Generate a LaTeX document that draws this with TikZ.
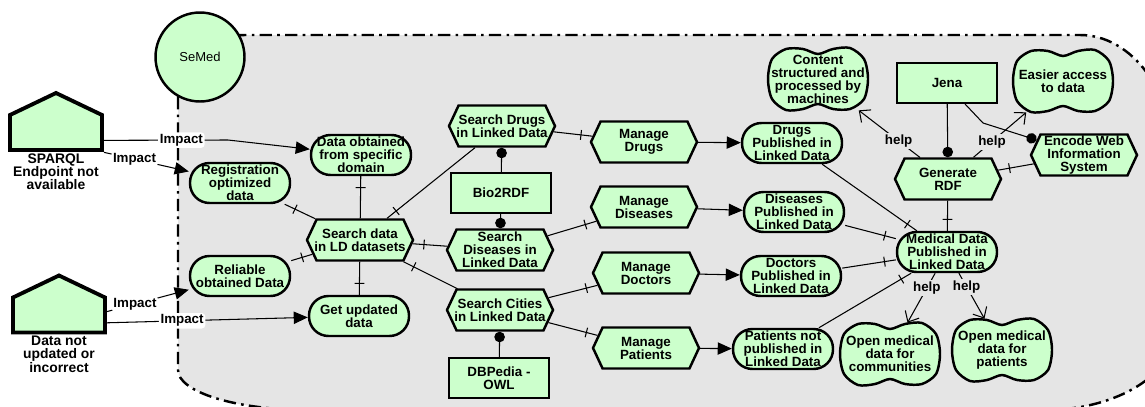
\documentclass[tikz,border=0pt]{standalone}
\usepackage{fontspec}
\setmainfont{Liberation Sans}
\usepackage{xcolor}
\definecolor{istarGreen}{RGB}{204,255,204}
\definecolor{boundaryGray}{RGB}{229,229,229}
\usepackage{tikz}
\usetikzlibrary{arrows.meta,shapes.misc,shapes.symbols,decorations.markings,calc}

\newcommand{\cloudoutline}[1]{%
  \draw[cloudline, shift={(#1)}] plot[smooth cycle] coordinates
    {(-50,0) (-46,-20) (-32,-30) (-15,-30) (0,-25) (15,-30) (32,-31) (46,-20)
     (50,0) (46,20) (32,30) (15,30) (0,25) (-15,30) (-32,31) (-46,20)};}
\newcommand{\actoroutline}[1]{%
  \draw[actorline, shift={(#1)}] (-46,28.5) -- (-46,-6.5) -- (0,-28.5) -- (46,-6.5) -- (46,28.5) -- cycle;}

\begin{document}
\begin{tikzpicture}[x=0.02cm, y=-0.02cm,
  every node/.style={font=\bfseries\fontsize{7.6}{7.4}\selectfont, align=center},
  goal/.style={rectangle, rounded corners=0.39cm, draw, line width=1.4pt, fill=istarGreen, minimum width=2cm, minimum height=0.8cm, inner sep=0pt},
  task/.style={signal, signal to=east and west, signal pointer angle=130, draw, line width=1.4pt, fill=istarGreen, minimum width=2.12cm, minimum height=0.82cm, inner xsep=-6pt, inner ysep=0pt},
  resource/.style={rectangle, draw, line width=1.4pt, fill=istarGreen, minimum width=2cm, minimum height=0.79cm, inner sep=0pt},
  softtext/.style={rectangle, minimum width=2cm, minimum height=1.24cm, inner sep=0pt},
  cloudline/.style={draw, line width=1.4pt, fill=istarGreen},
  actorline/.style={draw, line width=2.2pt, fill=istarGreen, line join=miter},
  actorbox/.style={rectangle, minimum width=1.84cm, minimum height=1.14cm, inner sep=0pt},
  actorlbl/.style={inner sep=0pt, label distance=1.5pt, font=\bfseries\fontsize{7.9}{7.6}\selectfont},
  boundary/.style={fill=boundaryGray, draw, line width=1.4pt, dash pattern=on 7pt off 3pt on 1.5pt off 3pt},
  link/.style={line width=0.6pt},
  decomp/.style={link, postaction={decorate}, decoration={markings, mark=at position -6.5pt with {\draw[link] (0,-2.8pt) -- (0,2.8pt);}}},
  meansend/.style={link, -{Triangle[length=8pt,width=7pt]}},
  impact/.style={link, -{Triangle[length=8pt,width=7pt]}},
  help/.style={link, -{Straight Barb[length=5pt,width=9pt]}},
  usedby/.style={link, -{Circle[length=6pt]}},
  lbl/.style={fill=white, inner sep=1pt, rounded corners=2pt},
  helplbl/.style={fill=boundaryGray, inner sep=1pt}]
\useasboundingbox (0,0) rectangle (1145,406);
\draw[boundary] (178,97) -- (178,370) arc[start angle=180, end angle=90, x radius=130, y radius=40] -- (1045,410) arc[start angle=90, end angle=0, x radius=130, y radius=80] -- (1175,165) arc[start angle=0, end angle=-90, x radius=95, y radius=130] -- (245,35) arc[start angle=-90, end angle=-180, x radius=67, y radius=62] -- cycle;
\node[circle, draw, line width=1.4pt, fill=istarGreen, minimum size=1.78cm, font=\fontsize{7.4}{8}\selectfont] (semed) at (200,57) {SeMed};

\actoroutline{56,121.5}
\node[actorbox, label={[actorlbl]below:SPARQL\\Endpoint not\\available}] (sparql) at (56,121.5) {};
\actoroutline{59,304}
\node[actorbox, label={[actorlbl]below:Data not\\updated or\\incorrect}] (datanot) at (59,304) {};

\node[goal] (dataobt) at (361,155) {Data obtained\\from specific\\domain};
\node[goal] (reg) at (240,183) {Registration\\optimized\\data};
\node[goal] (reliable) at (240,276) {Reliable\\obtained Data};
\node[goal] (getupd) at (359,316) {Get updated\\data};
\node[goal] (drugspub) at (792,143) {Drugs\\Published in\\Linked Data};
\node[goal] (dispub) at (794,212) {Diseases\\Published in\\Linked Data};
\node[goal] (docpub) at (791,276) {Doctors\\Published in\\Linked Data};
\node[goal] (patpub) at (783,349) {Patients not\\published in\\Linked Data};
\node[goal] (meddata) at (947,252) {Medical Data\\Published in\\Linked Data};

\node[task] (sdata) at (360,240) {Search data\\in LD datasets};
\node[task] (sdrugs) at (502,126) {Search Drugs\\in Linked Data};
\node[task] (sdis) at (500,250) {Search\\Diseases in\\Linked Data};
\node[task] (scities) at (500,310) {Search Cities\\in Linked Data};
\node[task] (mdrugs) at (644,142) {Manage\\Drugs};
\node[task] (mdis) at (644,207) {Manage\\Diseases};
\node[task] (mdoc) at (646,273) {Manage\\Doctors};
\node[task] (mpat) at (646,348) {Manage\\Patients};
\node[task] (genrdf) at (948,179) {Generate\\RDF};
\node[task] (encode) at (1084,155) {Encode Web\\Information\\System};

\node[resource] (bio) at (501,193) {Bio2RDF};
\node[resource] (dbpedia) at (499,378) {DBPedia -\\OWL};
\node[resource] (jena) at (947,83) {Jena};

\cloudoutline{818,79}
\node[softtext] (content) at (818,79) {Content\\structured and\\processed by\\machines};
\cloudoutline{1063,81}
\node[softtext] (easier) at (1063,81) {Easier access\\to data};
\cloudoutline{890,354}
\node[softtext] (opencom) at (890,354) {Open medical\\data for\\communities};
\cloudoutline{1002,350}
\node[softtext] (openpat) at (1002,350) {Open medical\\data for\\patients};

\draw[impact] ($(sparql.south)+(46,-10)$) -- node[lbl, pos=0.63] {Impact} (228,140) -- (dataobt);
\draw[impact] ($(sparql.south)+(48,2)$) -- node[lbl, pos=0.36] {Impact} (reg);
\draw[impact] ($(datanot.south)+(47,-21)$) -- node[lbl, pos=0.35] {Impact} (reliable);
\draw[impact] ($(datanot.south)+(46,-10)$) -- node[lbl, pos=0.38] {Impact} (getupd);

\draw[decomp] (sdata) -- (dataobt);
\draw[decomp] (sdata) -- (reg);
\draw[decomp] (sdata) -- (reliable);
\draw[decomp] (sdata) -- (getupd);
\draw[decomp] (sdrugs) -- (sdata);
\draw[decomp] (sdis) -- (sdata);
\draw[decomp] (scities) -- (sdata);
\draw[decomp] (sdrugs) -- (mdrugs);
\draw[decomp] (sdis) -- (mdis);
\draw[decomp] (scities) -- (mdoc);
\draw[decomp] (scities) -- (mpat);
\draw[decomp] (drugspub) -- (meddata);
\draw[decomp] (dispub) -- (meddata);
\draw[decomp] (docpub) -- (meddata);
\draw[decomp] (patpub) -- (meddata);
\draw[decomp] (genrdf) -- (meddata);
\draw[decomp] (encode) -- (genrdf);

\draw[meansend] (mdrugs) -- (drugspub);
\draw[meansend] (mdis) -- (dispub);
\draw[meansend] (mdoc) -- (docpub);
\draw[meansend] (mpat) -- (patpub);

\draw[usedby] (bio) -- (sdrugs);
\draw[usedby] (bio) -- (sdis);
\draw[usedby] (dbpedia) -- (scities);
\draw[usedby] (jena) -- (genrdf);
\draw[usedby] ($(jena.south)+(18,0)$) -- (983,123) -- (encode);

\draw[help] (genrdf) -- node[helplbl, pos=0.35] {help} (content);
\draw[help] (genrdf) -- node[helplbl, pos=0.35] {help} (easier);
\draw[help] (meddata) -- node[helplbl, pos=0.3] {help} (opencom);
\draw[help] (meddata) -- node[helplbl, pos=0.3] {help} (openpat);
\end{tikzpicture}
\end{document}
